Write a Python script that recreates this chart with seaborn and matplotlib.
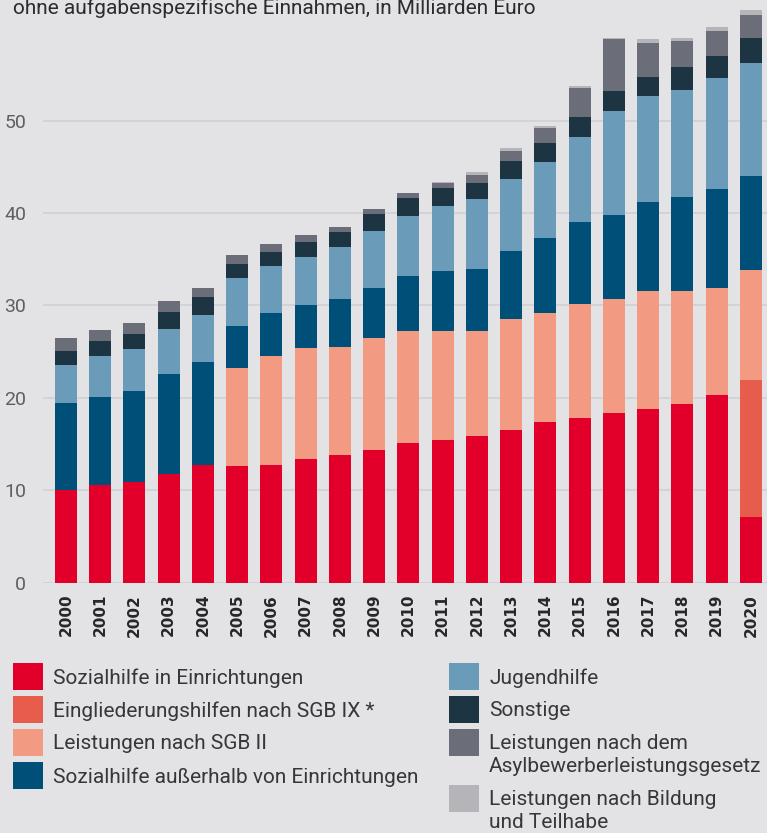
import numpy as np
import pandas as pd
import seaborn as sns
from matplotlib import pyplot as plt
from matplotlib.patches import Rectangle

years = [str(y) for y in range(2000, 2021)]

# Milliarden Euro
sozialhilfe_ein = [10.0, 10.6, 10.9, 11.8, 12.7, 12.6, 12.7, 13.4, 13.8, 14.4, 15.1,
                   15.4, 15.9, 16.5, 17.4, 17.8, 18.4, 18.8, 19.3, 20.3, 7.1]
eingliederung = [0] * 20 + [14.8]
sgb2 = [0, 0, 0, 0, 0, 10.6, 11.8, 12.0, 11.7, 12.1, 12.1,
        11.8, 11.3, 12.0, 11.8, 12.4, 12.3, 12.8, 12.3, 11.6, 11.9]
sozialhilfe_aus = [9.4, 9.5, 9.8, 10.8, 11.2, 4.6, 4.7, 4.6, 5.2, 5.4, 6.0,
                   6.5, 6.8, 7.4, 8.1, 8.8, 9.1, 9.6, 10.1, 10.7, 10.2]
jugendhilfe = [4.2, 4.4, 4.6, 4.9, 5.1, 5.2, 5.1, 5.3, 5.6, 6.2, 6.5,
               7.1, 7.5, 7.8, 8.2, 9.2, 11.2, 11.5, 11.6, 12.0, 12.2]
sonstige = [1.5, 1.7, 1.6, 1.75, 1.9, 1.5, 1.5, 1.6, 1.65, 1.75, 1.9,
            1.95, 1.8, 1.95, 2.1, 2.2, 2.2, 2.05, 2.5, 2.4, 2.75]
asyl = [1.4, 1.2, 1.2, 1.2, 1.0, 1.0, 0.9, 0.75, 0.5, 0.55, 0.55,
        0.5, 0.8, 1.1, 1.6, 3.1, 5.6, 3.7, 2.8, 2.7, 2.5]
bildung = [0] * 11 + [0.1, 0.3, 0.25, 0.25, 0.2, 0.2, 0.4, 0.4, 0.4, 0.5]

labels = ['Sozialhilfe in Einrichtungen', 'Eingliederungshilfen nach SGB IX *',
          'Leistungen nach SGB II', 'Sozialhilfe außerhalb von Einrichtungen',
          'Jugendhilfe', 'Sonstige',
          'Leistungen nach dem\nAsylbewerberleistungsgesetz',
          'Leistungen nach Bildung\nund Teilhabe']
colors = ['#e2002a', '#e85c4b', '#f29a82', '#004f79',
          '#6a9cba', '#1d3443', '#6b6e79', '#b4b4b9']
series = [sozialhilfe_ein, eingliederung, sgb2, sozialhilfe_aus,
          jugendhilfe, sonstige, asyl, bildung]

bg = '#e3e3e5'
sns.set_style('white')
plt.rcParams['font.family'] = ['Roboto', 'DejaVu Sans']

fig = plt.figure(figsize=(7.67, 8.33), dpi=100, facecolor=bg)
ax = fig.add_axes([43 / 767, 250.3 / 833, 724 / 767, 582.7 / 833])
ax.set_facecolor(bg)

bottom = np.zeros(len(years))
for vals, c in zip(series, colors):
    vals = np.array(vals, dtype=float)
    sns.barplot(x=years, y=vals, bottom=bottom, color=c, width=0.64,
                saturation=1, errorbar=None, ax=ax, linewidth=0)
    bottom += vals

ax.set_xlim(-0.67, 20.47)
ax.set_ylim(0, 63.06)
ax.set_yticks(np.arange(0, 51, 10))
ax.yaxis.grid(True, color='#cfcfd3', lw=1.1)
ax.xaxis.grid(False)
ax.set_axisbelow(True)
sns.despine(ax=ax, left=True, bottom=True)
ax.tick_params(axis='y', length=0, pad=12, labelsize=14, labelcolor='#5e5e64')
ax.tick_params(axis='x', length=0, pad=8, labelsize=11, labelcolor='#26262b')
for t in ax.get_xticklabels():
    t.set_rotation(90)
    t.set_fontweight('bold')
    t.set_family('DejaVu Sans')
ax.set_xlabel('')
ax.set_ylabel('')

fig.text(13 / 767, 1 - 14 / 833, 'ohne aufgabenspezifische Einnahmen, in Milliarden Euro',
         fontsize=15, color='#2b2b30', va='baseline')

# Legende
rows_left = [663, 696, 729, 762]
rows_right = [663, 696, 729, 785]
for i, (lab, c) in enumerate(zip(labels, colors)):
    if i < 4:
        x0, top = 13, rows_left[i]
    else:
        x0, top = 449, rows_right[i - 4]
    fig.add_artist(Rectangle((x0 / 767, 1 - (top + 27) / 833), 30 / 767, 27 / 833,
                             transform=fig.transFigure, color=c, lw=0))
    fig.text((x0 + 40) / 767, 1 - (top + 5) / 833, lab, fontsize=15,
             color='#36363b', va='top', linespacing=1.3)

fig.savefig('out.png', dpi=100, facecolor=bg)
